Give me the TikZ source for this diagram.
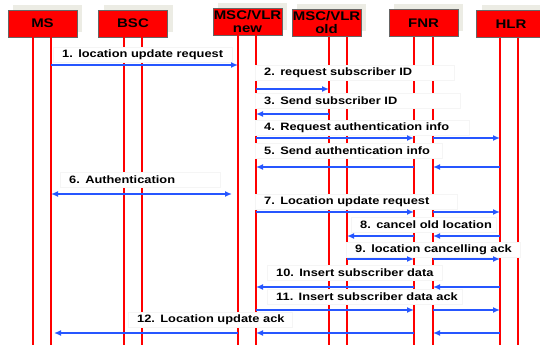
\documentclass[tikz,border=0pt]{standalone}
\usepackage{fontspec}
\usetikzlibrary{arrows.meta, shadows}
\newfontfamily\diafont{Liberation Sans}[FakeStretch=1.2]
\definecolor{msgblue}{RGB}{38,86,255}
\definecolor{shade}{RGB}{236,236,228}

\begin{document}
\begin{tikzpicture}[x=1pt, y=-1pt,
    entity/.style={draw=black!60, fill=red, minimum width=69pt, minimum height=27pt,
        inner sep=0pt, align=center, font=\diafont\bfseries\fontsize{12.5}{13}\selectfont,
        general shadow={fill=shade, shadow xshift=5pt, shadow yshift=5pt}},
    life/.style={red, line width=1.9pt},
    msg/.style={msgblue, line width=1.6pt, -{Latex[length=7pt, width=6pt]}},
    lbl/.style={anchor=west, fill=white, draw=black!4, inner xsep=0pt, inner ysep=1pt,
        minimum height=15pt, text width=#1, align=left, execute at begin node=\hspace*{9pt},
        font=\diafont\bfseries\fontsize{10.7}{12}\selectfont}]
    \useasboundingbox (0,0) rectangle (540,345);

    \node[entity] (ms)  at (42.5,23.5) {MS};
    \node[entity] (bsc) at (133,23.5)  {BSC};
    \node[entity] (nw)  at (247.5,21.5) {MSC/VLR\\new};
    \node[entity] (od)  at (326.5,23)  {MSC/VLR\\old};
    \node[entity] (fnr) at (423.5,23)  {FNR};
    \node[entity] (hlr) at (511,24)    {HLR};

    \foreach \n/\a/\b in {ms/33/51, bsc/124/142, nw/238/256, od/329/347, fnr/414/433, hlr/500/518} {
        \coordinate (\n A) at (\a,345);
        \coordinate (\n B) at (\b,345);
        \draw[life] (\n.south -| \n A) -- (\n A);
        \draw[life] (\n.south -| \n B) -- (\n B);
    }

    \foreach \i/\y in {1/65, 2/89, 3/114, 4/138, 5/167, 6/194, 7/212, 8/236, 9/259, 10/287, 11/310, 12/333}
        \coordinate (r\i) at (0,\y);

    \node[lbl=179pt] (l1)  at (53,55)    {1. location update request};
    \node[lbl=199pt] (l2)  at (255,73)   {2. request subscriber ID};
    \node[lbl=205pt] (l3)  at (255,101)  {3. Send subscriber ID};
    \node[lbl=214pt] (l4)  at (255,127.5) {4. Request authentication info};
    \node[lbl=187pt] (l5)  at (255,151)  {5. Send authentication info};
    \node[lbl=160pt] (l6)  at (60,180)   {6. Authentication};
    \node[lbl=202pt] (l7)  at (255,202)  {7. Location update request};
    \node[lbl=145pt] (l8)  at (351,225)  {8. cancel old location};
    \node[lbl=174pt] (l9)  at (346,249.5) {9. location cancelling ack};
    \node[lbl=175pt] (l10) at (267,273)  {10. Insert subscriber data};
    \node[lbl=195pt] (l11) at (267,297)  {11. Insert subscriber data ack};
    \node[lbl=164pt] (l12) at (128,320)  {12. Location update ack};

    \draw[msg] (msB |- r1) -- (nwA |- r1);
    \draw[msg] (nwB |- r2) -- (odA |- r2);
    \draw[msg] (odA |- r3) -- (nwB |- r3);
    \draw[msg] (nwB |- r4) -- (fnrA |- r4);
    \draw[msg] (fnrB |- r4) -- (hlrA |- r4);
    \draw[msg] (hlrA |- r5) -- (fnrB |- r5);
    \draw[msg] (fnrA |- r5) -- (nwB |- r5);
    \draw[msg, {Latex[length=7pt, width=6pt]}-{Latex[length=7pt, width=6pt]}, shorten >=6pt] (msB |- r6) -- (nwA |- r6);
    \draw[msg] (nwB |- r7) -- (fnrA |- r7);
    \draw[msg] (fnrB |- r7) -- (hlrA |- r7);
    \draw[msg] (hlrA |- r8) -- (fnrB |- r8);
    \draw[msg] (fnrA |- r8) -- (odB |- r8);
    \draw[msg] (odB |- r9) -- (fnrA |- r9);
    \draw[msg] (fnrB |- r9) -- (hlrA |- r9);
    \draw[msg] (hlrA |- r10) -- (fnrB |- r10);
    \draw[msg] (fnrA |- r10) -- (nwB |- r10);
    \draw[msg] (nwB |- r11) -- (fnrA |- r11);
    \draw[msg] (fnrB |- r11) -- (hlrA |- r11);
    \draw[msg] (hlrA |- r12) -- (fnrB |- r12);
    \draw[msg] (fnrA |- r12) -- (nwB |- r12);
    \draw[msg, shorten >=3pt] (nwA |- r12) -- (msB |- r12);
\end{tikzpicture}
\end{document}
